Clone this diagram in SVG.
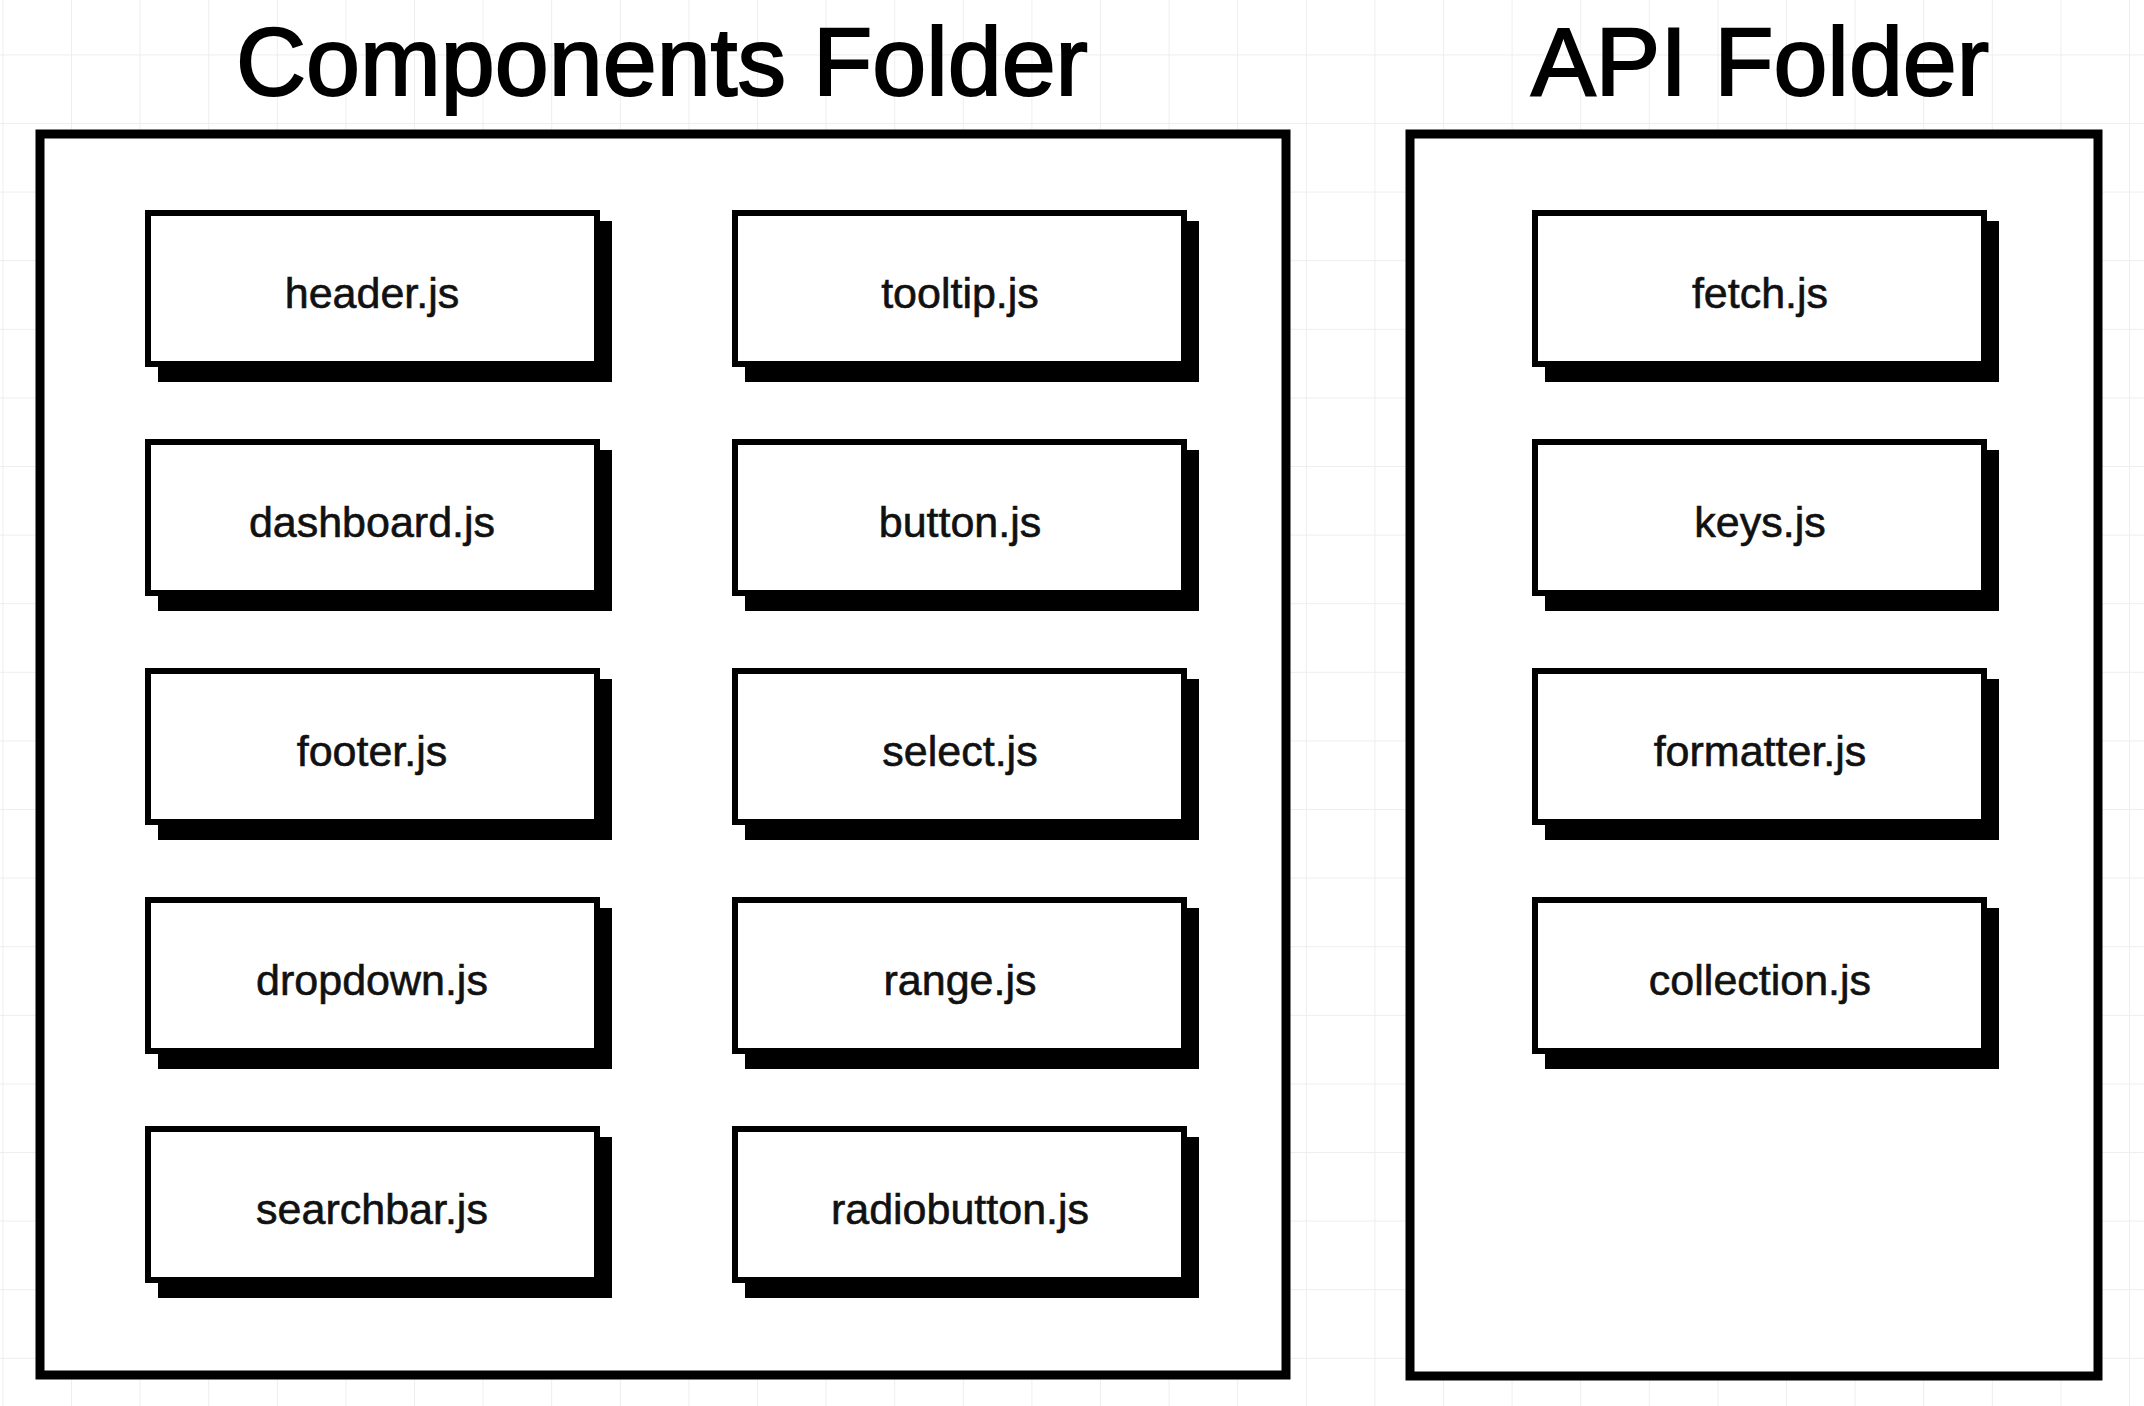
<svg xmlns="http://www.w3.org/2000/svg" width="2144" height="1406" viewBox="0 0 2144 1406">
  <defs>
    <pattern id="grid" patternUnits="userSpaceOnUse" x="2.4" y="-14.2" width="68.6" height="68.6">
      <path d="M0 0 H68.6 M0 0 V68.6" fill="none" stroke="#eeeeee" stroke-width="2"/>
    </pattern>
    <style>
      .folder { fill: #ffffff; stroke: #000000; stroke-width: 9; }
      .title { font-family: "Liberation Sans", Arial, sans-serif; font-size: 97px; fill: #000000; stroke: #000000; stroke-width: 2; text-anchor: middle; }
      .shadow { fill: #000000; }
      .card { fill: #ffffff; stroke: #000000; stroke-width: 6; }
      .label { font-family: "Liberation Sans", Arial, sans-serif; font-size: 43px; fill: #111111; stroke: #111111; stroke-width: 0.6; text-anchor: middle; }
    </style>
  </defs>

  <rect x="0" y="0" width="2144" height="1406" fill="#ffffff"/>
  <rect x="0" y="0" width="2144" height="1406" fill="url(#grid)"/>

  <g id="components-folder">
    <text class="title" x="662" y="95">Components Folder</text>
    <rect class="folder" x="40" y="134" width="1246" height="1241"/>
  </g>

  <g id="api-folder">
    <text class="title" x="1760" y="95">API Folder</text>
    <rect class="folder" x="1410" y="134" width="688" height="1242"/>
  </g>

  <g id="connectors"/>

  <!-- Column 1 -->
  <g id="node-header">
    <rect class="shadow" x="158" y="221" width="454" height="161"/>
    <rect class="card" x="148" y="213" width="449" height="151"/>
    <text class="label" x="372" y="308">header.js</text>
  </g>
  <g id="node-dashboard">
    <rect class="shadow" x="158" y="450" width="454" height="161"/>
    <rect class="card" x="148" y="442" width="449" height="151"/>
    <text class="label" x="372" y="537">dashboard.js</text>
  </g>
  <g id="node-footer">
    <rect class="shadow" x="158" y="679" width="454" height="161"/>
    <rect class="card" x="148" y="671" width="449" height="151"/>
    <text class="label" x="372" y="766">footer.js</text>
  </g>
  <g id="node-dropdown">
    <rect class="shadow" x="158" y="908" width="454" height="161"/>
    <rect class="card" x="148" y="900" width="449" height="151"/>
    <text class="label" x="372" y="995">dropdown.js</text>
  </g>
  <g id="node-searchbar">
    <rect class="shadow" x="158" y="1137" width="454" height="161"/>
    <rect class="card" x="148" y="1129" width="449" height="151"/>
    <text class="label" x="372" y="1224">searchbar.js</text>
  </g>

  <!-- Column 2 -->
  <g id="node-tooltip">
    <rect class="shadow" x="745" y="221" width="454" height="161"/>
    <rect class="card" x="735" y="213" width="449" height="151"/>
    <text class="label" x="960" y="308">tooltip.js</text>
  </g>
  <g id="node-button">
    <rect class="shadow" x="745" y="450" width="454" height="161"/>
    <rect class="card" x="735" y="442" width="449" height="151"/>
    <text class="label" x="960" y="537">button.js</text>
  </g>
  <g id="node-select">
    <rect class="shadow" x="745" y="679" width="454" height="161"/>
    <rect class="card" x="735" y="671" width="449" height="151"/>
    <text class="label" x="960" y="766">select.js</text>
  </g>
  <g id="node-range">
    <rect class="shadow" x="745" y="908" width="454" height="161"/>
    <rect class="card" x="735" y="900" width="449" height="151"/>
    <text class="label" x="960" y="995">range.js</text>
  </g>
  <g id="node-radiobutton">
    <rect class="shadow" x="745" y="1137" width="454" height="161"/>
    <rect class="card" x="735" y="1129" width="449" height="151"/>
    <text class="label" x="960" y="1224">radiobutton.js</text>
  </g>

  <!-- API column -->
  <g id="node-fetch">
    <rect class="shadow" x="1545" y="221" width="454" height="161"/>
    <rect class="card" x="1535" y="213" width="449" height="151"/>
    <text class="label" x="1760" y="308">fetch.js</text>
  </g>
  <g id="node-keys">
    <rect class="shadow" x="1545" y="450" width="454" height="161"/>
    <rect class="card" x="1535" y="442" width="449" height="151"/>
    <text class="label" x="1760" y="537">keys.js</text>
  </g>
  <g id="node-formatter">
    <rect class="shadow" x="1545" y="679" width="454" height="161"/>
    <rect class="card" x="1535" y="671" width="449" height="151"/>
    <text class="label" x="1760" y="766">formatter.js</text>
  </g>
  <g id="node-collection">
    <rect class="shadow" x="1545" y="908" width="454" height="161"/>
    <rect class="card" x="1535" y="900" width="449" height="151"/>
    <text class="label" x="1760" y="995">collection.js</text>
  </g>
</svg>
